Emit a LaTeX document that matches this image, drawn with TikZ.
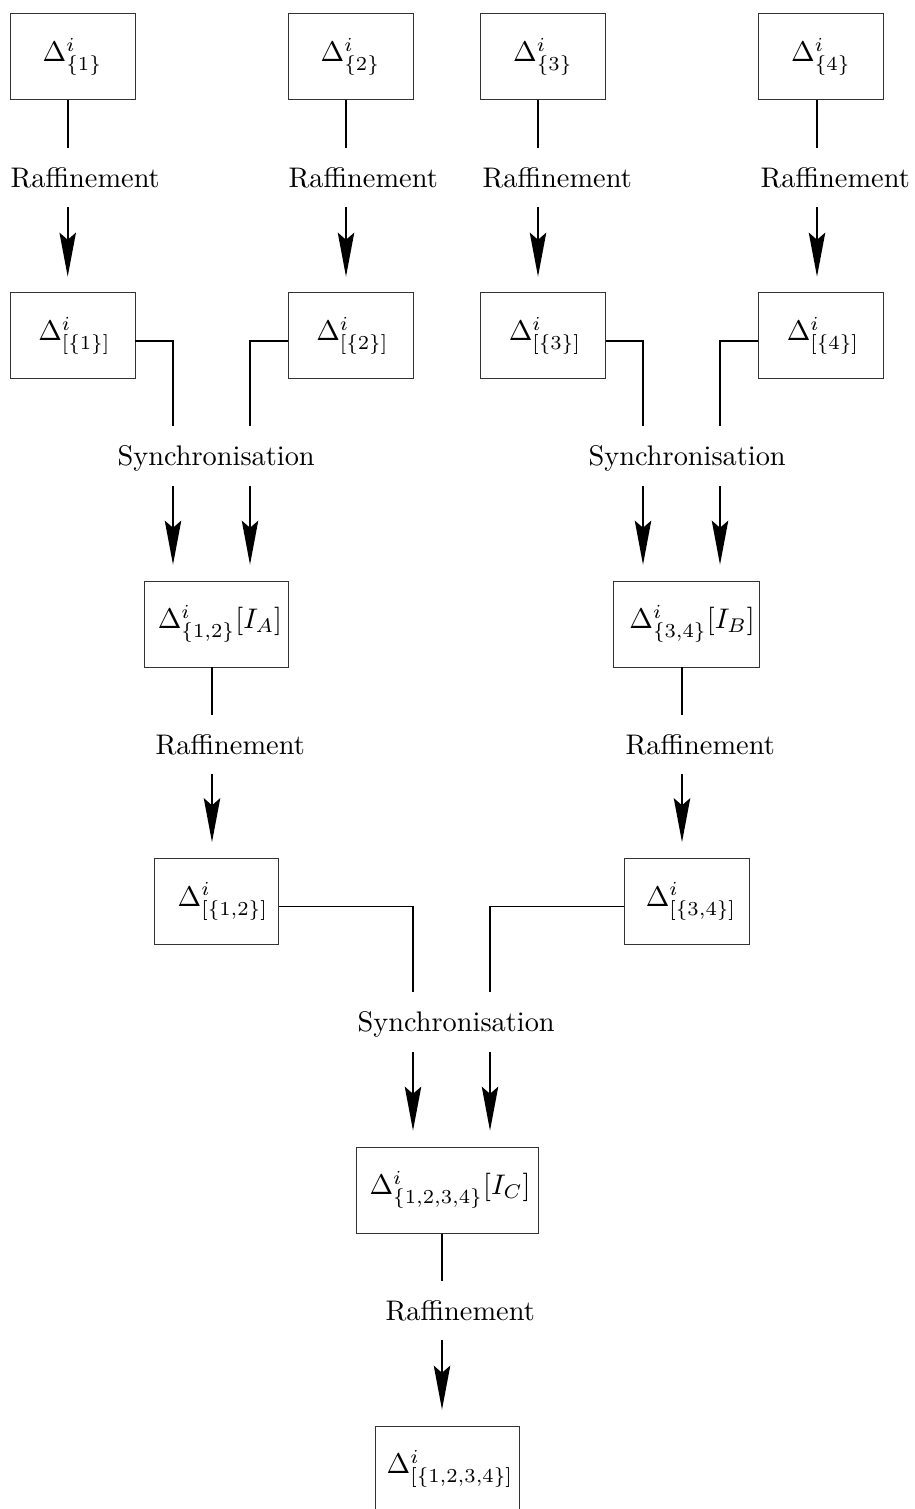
\documentclass[tikz,border=0pt]{standalone}
\usetikzlibrary{arrows.meta}
\begin{document}
\begin{tikzpicture}[x=0.3528pt,y=-0.3528pt,
  box/.style={draw=black!80, line width=0.35pt, minimum height=30.34pt, inner sep=0pt},
  lab/.style={inner sep=0pt, text height=6.9pt, text depth=0pt, minimum height=20.7pt, anchor=west},
  ln/.style={line width=0.7pt},
  arr/.style={line width=0.7pt, -{Stealth[length=15.5pt,width=5.8pt,inset=2.5pt]}, shorten >=5.6pt}]
\clip (0,0) rectangle (915,1509);
% column coordinates
\coordinate (xa) at (67.7,0);
\coordinate (xb) at (346,0);
\coordinate (xc) at (538,0);
\coordinate (xd) at (817,0);
\coordinate (xe) at (173,0);
\coordinate (xf) at (250,0);
\coordinate (xg) at (643,0);
\coordinate (xh) at (720,0);
\coordinate (xi) at (212,0);
\coordinate (xj) at (682,0);
\coordinate (xk) at (413,0);
\coordinate (xl) at (490,0);
\coordinate (xm) at (442,0);
% row 1 boxes
\node[box, minimum width=44.1pt] (b1) at (72.5,57) {$\Delta^i_{\{1\}}$\hspace{2.8pt}};
\node[box, minimum width=44.1pt] (b2) at (350.5,57) {$\Delta^i_{\{2\}}$\hspace{2.8pt}};
\node[box, minimum width=44.1pt] (b3) at (543,57) {$\Delta^i_{\{3\}}$\hspace{2.8pt}};
\node[box, minimum width=44.1pt] (b4) at (821,57) {$\Delta^i_{\{4\}}$\hspace{2.8pt}};
% raffinement labels row 1
\node[lab] (r1) at (10,177.5) {Raffinement};
\node[lab] (r2) at (288,177.5) {Raffinement};
\node[lab] (r3) at (482,177.5) {Raffinement};
\node[lab] (r4) at (760,177.5) {Raffinement};
% row 2 boxes
\node[box, minimum width=44.1pt] (c1) at (72.5,336) {\hspace{1.4pt}$\Delta^i_{[\{1\}]}$};
\node[box, minimum width=44.1pt] (c2) at (350.5,336) {\hspace{1.4pt}$\Delta^i_{[\{2\}]}$};
\node[box, minimum width=44.1pt] (c3) at (543,336) {\hspace{1.4pt}$\Delta^i_{[\{3\}]}$};
\node[box, minimum width=44.1pt] (c4) at (821,336) {\hspace{1.4pt}$\Delta^i_{[\{4\}]}$};
% synchronisation labels row 2
\node[lab] (y1) at (117,456) {Synchronisation};
\node[lab] (y2) at (588,456) {Synchronisation};
% row 3 boxes
\node[box, minimum width=50.8pt] (s12) at (216,624) {\hspace{2.8pt}$\Delta^i_{\{1,2\}}[I_A]$};
\node[box, minimum width=51.2pt] (s34) at (686.5,624) {\hspace{3.9pt}$\Delta^i_{\{3,4\}}[I_B]$};
% raffinement labels row 3
\node[lab] (r5) at (155,744.5) {Raffinement};
\node[lab] (r6) at (625,744.5) {Raffinement};
% row 4 boxes
\node[box, minimum width=43.75pt] (c12) at (216,901.5) {\hspace{4.9pt}$\Delta^i_{[\{1,2\}]}$};
\node[box, minimum width=44.1pt] (c34) at (686.5,901.5) {\hspace{3.2pt}$\Delta^i_{[\{3,4\}]}$};
% synchronisation label row 4
\node[lab] (y3) at (357,1022) {Synchronisation};
% row 5
\node[box, minimum width=64.2pt] (s1234) at (447,1190) {\hspace{2.1pt}$\Delta^i_{\{1,2,3,4\}}[I_C]$};
\node[lab] (r7) at (385,1310.5) {Raffinement};
\node[box, minimum width=50.8pt] (c1234) at (447,1469) {\hspace{2.1pt}$\Delta^i_{[\{1,2,3,4\}]}$};
% row 1 -> row 2
\draw[ln] (b1.south -| xa) -- (r1.north -| xa);
\draw[arr] (r1.south -| xa) -- (c1.north -| xa);
\draw[ln] (b2.south -| xb) -- (r2.north -| xb);
\draw[arr] (r2.south -| xb) -- (c2.north -| xb);
\draw[ln] (b3.south -| xc) -- (r3.north -| xc);
\draw[arr] (r3.south -| xc) -- (c3.north -| xc);
\draw[ln] (b4.south -| xd) -- (r4.north -| xd);
\draw[arr] (r4.south -| xd) -- (c4.north -| xd);
% row 2 -> row 3
\draw[ln] ([yshift=-1.76pt]c1.east) -| (y1.north -| xe);
\draw[ln] ([yshift=-1.76pt]c2.west) -| (y1.north -| xf);
\draw[arr] (y1.south -| xe) -- (s12.north -| xe);
\draw[arr] (y1.south -| xf) -- (s12.north -| xf);
\draw[ln] ([yshift=-1.76pt]c3.east) -| (y2.north -| xg);
\draw[ln] ([yshift=-1.76pt]c4.west) -| (y2.north -| xh);
\draw[arr] (y2.south -| xg) -- (s34.north -| xg);
\draw[arr] (y2.south -| xh) -- (s34.north -| xh);
% row 3 -> row 4
\draw[ln] (s12.south -| xi) -- (r5.north -| xi);
\draw[arr] (r5.south -| xi) -- (c12.north -| xi);
\draw[ln] (s34.south -| xj) -- (r6.north -| xj);
\draw[arr] (r6.south -| xj) -- (c34.north -| xj);
% row 4 -> row 5
\draw[ln] ([yshift=-1.76pt]c12.east) -| (y3.north -| xk);
\draw[ln] ([yshift=-1.76pt]c34.west) -| (y3.north -| xl);
\draw[arr] (y3.south -| xk) -- (s1234.north -| xk);
\draw[arr] (y3.south -| xl) -- (s1234.north -| xl);
% row 5 -> row 6
\draw[ln] (s1234.south -| xm) -- (r7.north -| xm);
\draw[arr] (r7.south -| xm) -- (c1234.north -| xm);
\end{tikzpicture}
\end{document}
